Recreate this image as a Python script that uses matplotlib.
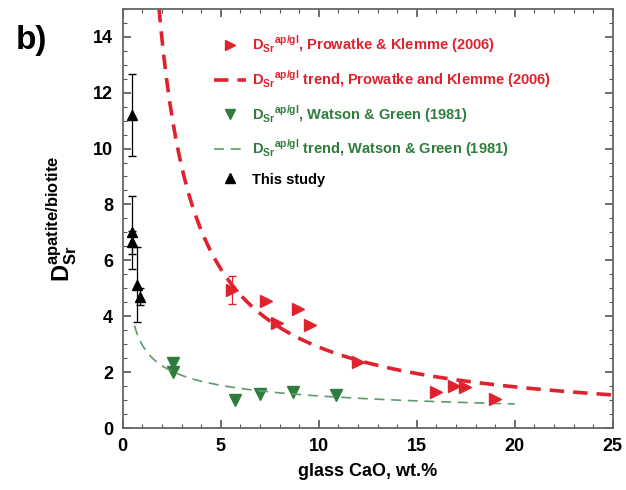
import numpy as np
import matplotlib
matplotlib.use('Agg')
import matplotlib.pyplot as plt
from matplotlib.ticker import MultipleLocator
from matplotlib.lines import Line2D

plt.rcParams['font.family'] = ['Liberation Sans', 'DejaVu Sans']
plt.rcParams['mathtext.fontset'] = 'custom'
plt.rcParams['mathtext.rm'] = 'Liberation Sans'
plt.rcParams['mathtext.bf'] = 'Liberation Sans:bold'

# Prowatke & Klemme (2006)
pk_cao = [5.6, 7.33, 7.86, 8.93, 9.54, 12.0, 16.0, 16.9, 17.45, 18.98]
pk_d = [4.95, 4.53, 3.77, 4.27, 3.7, 2.38, 1.3, 1.5, 1.47, 1.04]
pk_err = [0.5, 0, 0, 0, 0, 0, 0, 0, 0, 0]

# Watson & Green (1981)
wg_cao = [2.55, 2.55, 5.71, 7.0, 8.67, 10.9]
wg_d = [2.33, 1.99, 1.0, 1.22, 1.3, 1.18]

# This study
ts_cao = [0.5, 0.5, 0.5, 0.72, 0.9]
ts_d = [11.2, 7.0, 6.64, 5.13, 4.7]
ts_err = [1.45, 1.3, 0.4, 1.35, 0.3]

# power-law trends D = a * CaO^b
pk_a, pk_b, pk_range = 27.4, -0.976, (1.85, 25.0)
wg_a, wg_b, wg_range = 2.97, -0.413, (0.6, 20.0)

red = '#e0222e'
green = '#2f7d3c'
green_line = '#5f9a6a'

fig = plt.figure(figsize=(6.26, 4.9), dpi=100)
ax = fig.add_axes([0.196, 0.1265, 0.783, 0.8555])

x_pk = np.linspace(*pk_range, 300)
x_wg = np.linspace(*wg_range, 300)

ax.errorbar(pk_cao, pk_d, yerr=pk_err, fmt='>', color=red, ms=8, capsize=3, elinewidth=0.8)
ax.plot(x_pk, pk_a * x_pk ** pk_b, '--', color=red, lw=2.6, dashes=(4, 2.5))
ax.plot(wg_cao, wg_d, 'v', color=green, ms=8, ls='none')
ax.plot(x_wg, wg_a * x_wg ** wg_b, '--', color=green_line, lw=1.2, dashes=(6, 4))
ax.errorbar(ts_cao, ts_d, yerr=ts_err, fmt='^', color='black', ms=7, capsize=3, elinewidth=0.9)

# legend handles (markers only, like the original)
handles = [
    Line2D([], [], marker='>', color=red, ls='none', ms=7),
    Line2D([], [], color=red, lw=2.6, ls='--', dashes=(4, 2.5)),
    Line2D([], [], marker='v', color=green, ls='none', ms=7),
    Line2D([], [], color=green_line, lw=1.2, ls='--', dashes=(6, 4)),
    Line2D([], [], marker='^', color='black', ls='none', ms=7),
]
labels = [
    r'D$_{\mathregular{Sr}}$$^{\mathregular{ap/gl}}$, Prowatke & Klemme (2006)',
    r'D$_{\mathregular{Sr}}$$^{\mathregular{ap/gl}}$ trend, Prowatke and Klemme (2006)',
    r'D$_{\mathregular{Sr}}$$^{\mathregular{ap/gl}}$, Watson & Green (1981)',
    r'D$_{\mathregular{Sr}}$$^{\mathregular{ap/gl}}$ trend, Watson & Green (1981)',
    'This study',
]

ax.set_xlim(0, 25)
ax.set_ylim(0, 15)
ax.xaxis.set_major_locator(MultipleLocator(5))
ax.xaxis.set_minor_locator(MultipleLocator(1))
ax.yaxis.set_minor_locator(MultipleLocator(0.5))
ax.set_yticks([0, 2, 4, 6, 8, 10, 12, 14])
ax.tick_params(which='both', direction='in', top=True, right=True, color='#555555')
ax.tick_params(which='major', length=6, width=1.2, labelsize=13, pad=7)
ax.tick_params(which='minor', length=3, width=0.8)
for lab in ax.get_xticklabels() + ax.get_yticklabels():
    lab.set_fontweight('bold')
for s in ax.spines.values():
    s.set_color('#666666')
    s.set_linewidth(1.3)

ax.set_xlabel('glass CaO, wt.%', fontsize=13, fontweight='bold', labelpad=6)
ax.set_ylabel(r'$\mathbf{D}_{\mathbf{Sr}}^{\mathbf{apatite/biotite}}$', fontsize=17, labelpad=10)

fig.text(0.025, 0.9, 'b)', fontsize=24, fontweight='bold')

ax.legend(handles, labels, loc='upper left', bbox_to_anchor=(0.16, 0.972), frameon=False,
          handlelength=2.2, labelspacing=0.9, handletextpad=0.4,
          labelcolor=[red, red, green, green, 'black'],
          prop={'weight': 'bold', 'size': 10.5})

fig.savefig('out.png', dpi=100)
